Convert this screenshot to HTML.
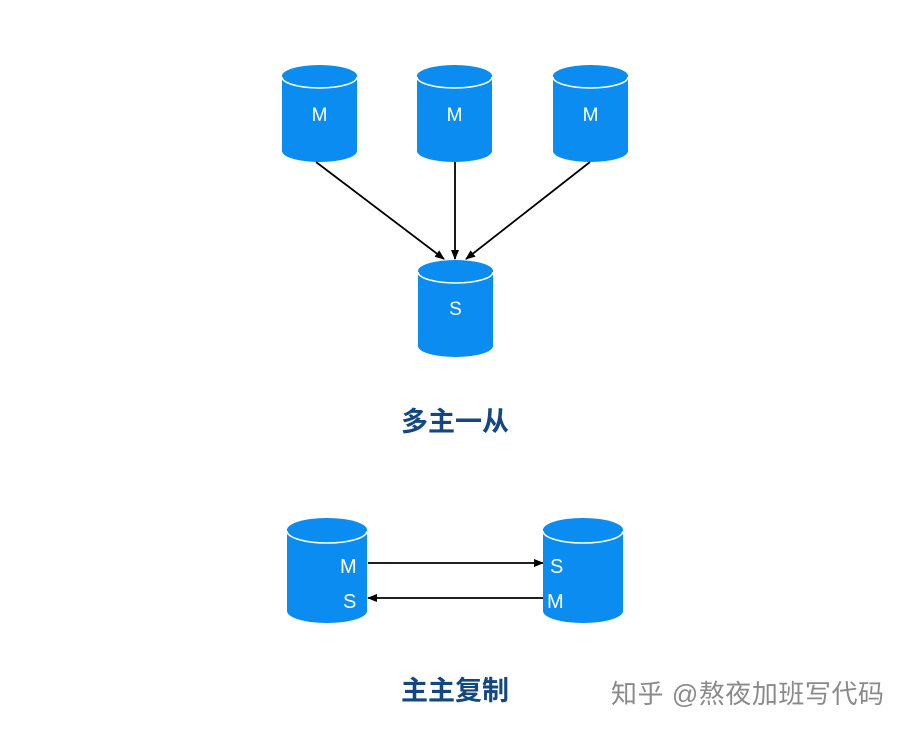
<!DOCTYPE html>
<html><head><meta charset="utf-8"><style>
html,body{margin:0;padding:0;background:#fff;width:907px;height:732px;overflow:hidden}
svg text{font-family:"Liberation Sans","Noto Sans CJK SC",sans-serif}
</style></head><body>
<svg width="907" height="732" viewBox="0 0 907 732" xmlns="http://www.w3.org/2000/svg">
<defs>
<marker id="a" markerWidth="10" markerHeight="8" refX="9" refY="4" orient="auto" markerUnits="userSpaceOnUse">
<path d="M0,0 L10,4 L0,8 Z" fill="#000"/></marker>
<g id="cyl">
<path d="M0,0 A37.5,11 0 0 1 75,0 L75,75 A37.5,11 0 0 1 0,75 Z" fill="#0a8cf0"/>
<path d="M0,1 A37.5,11 0 0 0 75,1" fill="none" stroke="#fff" stroke-width="1.6"/>
</g>
<g id="cyl2">
<path d="M0,0 A40,12 0 0 1 80,0 L80,81 A40,12 0 0 1 0,81 Z" fill="#0a8cf0"/>
<path d="M0,1 A40,12 0 0 0 80,1" fill="none" stroke="#fff" stroke-width="1.6"/>
</g>
</defs>
<use href="#cyl" x="282" y="76"/>
<use href="#cyl" x="417" y="76"/>
<use href="#cyl" x="553" y="76"/>
<use href="#cyl" x="418" y="271"/>
<g fill="#fff" font-size="19" text-anchor="middle">
<text x="319.5" y="121">M</text>
<text x="454.5" y="121">M</text>
<text x="590.5" y="121">M</text>
<text x="455.5" y="315">S</text>
</g>
<g stroke="#000" stroke-width="1.8" fill="none" marker-end="url(#a)">
<line x1="316" y1="162" x2="444" y2="259"/>
<line x1="455" y1="162" x2="455" y2="259"/>
<line x1="590" y1="162" x2="466" y2="259"/>
<line x1="368" y1="563" x2="543" y2="563"/>
<line x1="543" y1="598" x2="368" y2="598"/>
</g>
<use href="#cyl2" x="287" y="530"/>
<use href="#cyl2" x="543" y="530"/>
<g fill="#fff" font-size="20">
<text x="340" y="573">M</text>
<text x="343" y="608">S</text>
<text x="550" y="573">S</text>
<text x="547" y="608">M</text>
</g>
<g fill="#12487f" font-size="27" font-weight="bold">
<text x="401" y="431" textLength="108">多主一从</text>
<text x="401" y="700" textLength="108">主主复制</text>
</g>
<text x="611" y="703" font-size="26" fill="#8a8a8a" textLength="273">知乎 @熬夜加班写代码</text>
</svg>
</body></html>
